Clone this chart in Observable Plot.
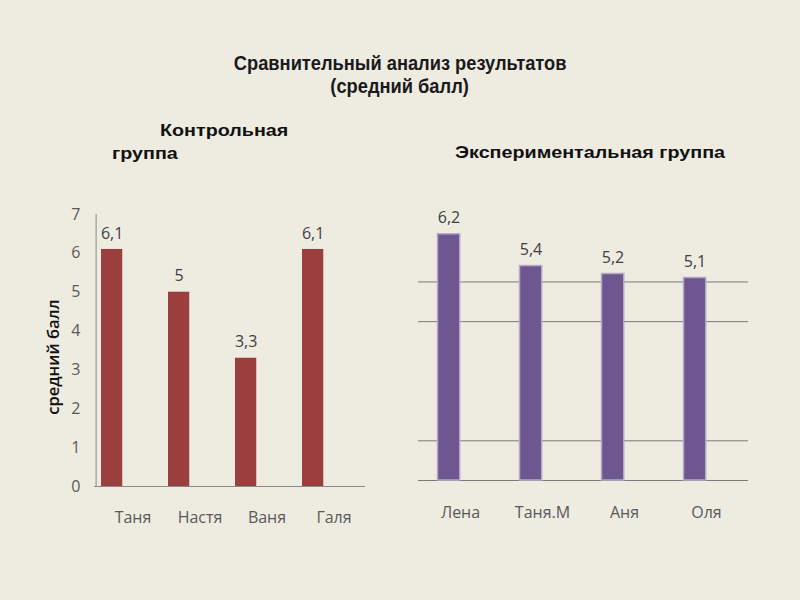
<!DOCTYPE html>
<html><head><meta charset="utf-8">
<script src="https://cdn.jsdelivr.net/npm/d3@7"></script>
<script src="https://cdn.jsdelivr.net/npm/@observablehq/plot@0.6"></script>
<style>
html,body{margin:0;padding:0;background:#EEEBE1;}
#page{position:relative;width:800px;height:600px;background:#EEEBE1;overflow:hidden;font-family:"Open Sans",sans-serif;}
.h{position:absolute;white-space:nowrap;color:#111;line-height:1.15;}
.title{font-family:"Liberation Sans",Arial,sans-serif;font-weight:bold;font-size:21px;width:800px;left:0;text-align:center;color:#1a1a1a;}
.title span{display:inline-block;transform:scaleX(0.87);transform-origin:center;}
.sub{font-family:"Liberation Sans",Arial,sans-serif;font-weight:bold;font-size:17px;transform:scaleX(1.16);transform-origin:left center;}
.chart{position:absolute;}
#ylab{position:absolute;left:52px;top:357px;transform:translate(-50%,-50%) rotate(-90deg);font-family:"Open Sans",sans-serif;font-weight:600;font-size:16.5px;color:#111;white-space:nowrap;}
</style></head>
<body><div id="page">
<div class="h title" style="top:51px"><span>Сравнительный анализ результатов</span></div>
<div class="h title" style="top:74px"><span>(средний балл)</span></div>
<div class="h sub" style="left:160px;top:121px">Контрольная</div>
<div class="h sub" style="left:112px;top:144px">группа</div>
<div class="h sub" style="left:455px;top:143px">Экспериментальная группа</div>
<div id="ylab">средний балл</div>
<div class="chart" id="left" style="left:0;top:190px"></div>
<div class="chart" id="right" style="left:400px;top:190px"></div>
</div>
<script>
const controlNames = ["Таня", "Настя", "Ваня", "Галя"];
const controlValues = [6.1, 5, 3.3, 6.1];
const expNames = ["Лена", "Таня.М", "Аня", "Оля"];
const expValues = [6.2, 5.4, 5.2, 5.1];
const yTicks = [0, 1, 2, 3, 4, 5, 6, 7];
const expGrid = [0, 1, 4, 5];

const fmt = v => String(v).replace(".", ",");
const control = controlNames.map((n, i) => ({name: n, value: controlValues[i]}));
const exp = expNames.map((n, i) => ({name: n, value: expValues[i]}));

const leftPlot = Plot.plot({
  width: 400, height: 350,
  marginLeft: 94, marginRight: 35, marginTop: 24, marginBottom: 54,
  style: {background: "transparent", fontFamily: "Open Sans, sans-serif", fontSize: "16px", color: "#595959"},
  x: {domain: controlNames, padding: 0, label: null},
  y: {domain: [0, 7], label: null},
  marks: [
    Plot.axisY({ticks: yTicks, tickFormat: d => String(d), tickSize: 0, tickPadding: 14, label: null, fill: "#595959"}),
    Plot.axisX({tickSize: 0, tickPadding: 25, label: null, fill: "#595959", dx: 3}),
    Plot.ruleX([0], {x: () => controlNames[0], stroke: "#8a8a8a", dx: -33.9, y1: 0, y2: 7}),
    Plot.ruleY([0], {stroke: "#8a8a8a"}),
    Plot.barY(control, {x: "name", y: "value", fill: "#9B3E3E", insetLeft: 5, insetRight: 40.75}),
    Plot.text(control, {x: "name", y: "value", text: d => fmt(d.value), dx: -17.9, dy: -16, fill: "#404040", fontSize: 16})
  ]
});
document.getElementById("left").appendChild(leftPlot);

const rightPlot = Plot.plot({
  width: 400, height: 350,
  marginLeft: 18, marginRight: 52, marginTop: 12, marginBottom: 60,
  style: {background: "transparent", fontFamily: "Open Sans, sans-serif", fontSize: "16px", color: "#595959"},
  x: {domain: expNames, padding: 0, label: null},
  y: {domain: [0, 7], label: null, axis: null},
  marks: [
    Plot.ruleY(expGrid, {stroke: "#7a7a7a"}),
    Plot.axisX({tickSize: 0, tickPadding: 26, label: null, fill: "#595959"}),
    Plot.barY(exp, {x: "name", y: "value", fill: "#6E5690", stroke: "#B7A9C9", strokeWidth: 1.5, insetLeft: 18.5, insetRight: 41.25}),
    Plot.text(exp, {x: "name", y: "value", text: d => fmt(d.value), dx: -11.5, dy: -16, fill: "#404040", fontSize: 16})
  ]
});
document.getElementById("right").appendChild(rightPlot);
</script>
</body></html>
